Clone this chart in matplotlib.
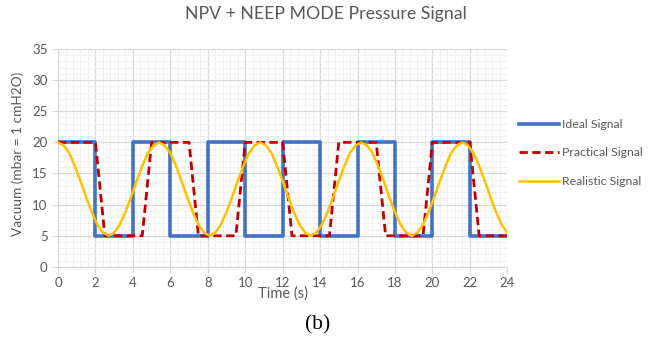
import numpy as np
import matplotlib.pyplot as plt
from matplotlib.ticker import MultipleLocator

plt.rcParams['font.family'] = ['Lato', 'DejaVu Sans']

# Ideal signal: square wave, value held over each 2 s step
ideal_t = [0, 2, 4, 6, 8, 10, 12, 14, 16, 18, 20, 22, 24]
ideal_v = [20, 5, 20, 5, 20, 5, 20, 5, 20, 5, 20, 5, 5]

# Practical signal: trapezoid corners
practical_t = [0, 2, 2.5, 4.5, 5, 7, 7.5, 9.5, 10, 12, 12.5, 14.5, 15, 17, 17.5, 19.5, 20, 22, 22.5, 24]
practical_v = [20, 20, 5, 5, 20, 20, 5, 5, 20, 20, 5, 5, 20, 20, 5, 5, 20, 20, 5, 5]

# Realistic signal: read every 0.3 s
realistic_t = np.arange(0, 24.01, 0.3)
realistic_v = [20.0, 19.5, 18.3, 16.2, 13.8, 11.2, 8.8, 6.8, 5.5, 5.0, 5.5, 6.8, 8.8, 11.2, 13.8, 16.2, 18.3, 19.5,
               20.0, 19.5, 18.3, 16.2, 13.8, 11.2, 8.8, 6.8, 5.5, 5.0, 5.5, 6.8, 8.8, 11.2, 13.8, 16.2, 18.3, 19.5,
               20.0, 19.5, 18.3, 16.2, 13.8, 11.2, 8.8, 6.8, 5.5, 5.0, 5.5, 6.8, 8.8, 11.2, 13.8, 16.2, 18.3, 19.5,
               20.0, 19.5, 18.3, 16.2, 13.8, 11.2, 8.8, 6.8, 5.5, 5.0, 5.5, 6.8, 8.8, 11.2, 13.8, 16.2, 18.3, 19.5,
               20.0, 19.5, 18.3, 16.2, 13.8, 11.2, 8.8, 6.8, 5.5]

fig = plt.figure(figsize=(6.52, 3.4), dpi=100)
ax = fig.add_axes([0.089, 0.215, 0.689, 0.641])

ax.plot(ideal_t, ideal_v, drawstyle='steps-post', color='#4472C4', lw=2.6, label='Ideal Signal', zorder=3)
ax.plot(practical_t, practical_v, color='#C00000', lw=2.0, ls=(0, (3, 1.6)), label='Practical Signal', zorder=4)
ax.plot(realistic_t, realistic_v, color='#FFC000', lw=1.8, label='Realistic Signal', zorder=5)

ax.set_xlim(0, 24)
ax.set_ylim(0, 35)
ax.xaxis.set_major_locator(MultipleLocator(2))
ax.xaxis.set_minor_locator(MultipleLocator(0.4))
ax.yaxis.set_major_locator(MultipleLocator(5))
ax.yaxis.set_minor_locator(MultipleLocator(1))
ax.grid(which='major', color='#d9d9d9', lw=0.9)
ax.grid(which='minor', color='#f0f0f0', lw=0.7)
ax.set_axisbelow(True)
for s in ax.spines.values():
    s.set_visible(False)
ax.spines['left'].set_visible(True)
ax.spines['bottom'].set_visible(True)
ax.spines['left'].set_color('#d9d9d9')
ax.spines['bottom'].set_color('#d9d9d9')
ax.tick_params(which='major', length=4, color='#d9d9d9', labelcolor='#595959', labelsize=9.5)
ax.tick_params(which='minor', length=0)

ax.set_ylabel('Vacuum (mbar = 1 cmH2O)', color='#595959', fontsize=9.8)
ax.yaxis.set_label_coords(-0.075, 0.52)
fig.text(0.434, 0.138, 'Time (s)', color='#595959', fontsize=10.5, ha='center', va='center')
fig.text(0.5, 0.96, 'NPV + NEEP MODE Pressure Signal', color='#595959', fontsize=12.8, ha='center', va='center')
fig.text(0.487, 0.045, '(b)', fontsize=15.5, family='Liberation Serif', ha='center', va='center')

fig.legend(loc='center left', bbox_to_anchor=(0.779, 0.55), frameon=False, fontsize=8.8,
           handlelength=3.3, handletextpad=0.25, labelspacing=1.45, labelcolor='#595959')

fig.savefig('out.png', dpi=100)
